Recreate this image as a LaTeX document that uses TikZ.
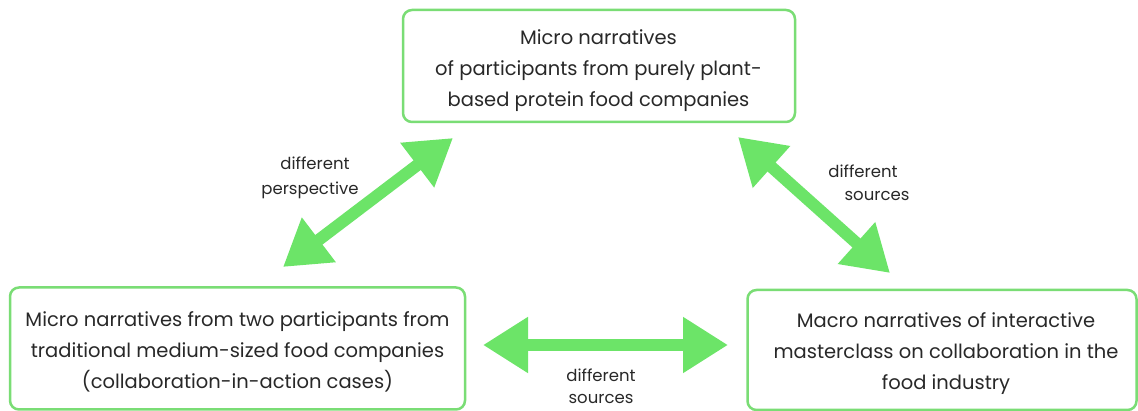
\documentclass[tikz,border=0pt]{standalone}
\usepackage{fontspec}
\setmainfont{Poppins}
\usetikzlibrary{arrows.meta}
\definecolor{boxgreen}{RGB}{122,221,117}
\definecolor{arrowgreen}{RGB}{108,228,104}
\definecolor{ink}{RGB}{40,40,40}
\begin{document}
\begin{tikzpicture}[x=1pt,y=-1pt,
  frame/.style={draw=boxgreen, line width=2.5pt, rounded corners=9pt,
    fill=white, inner sep=0pt},
  narrative/.style={align=center, text=ink, inner sep=0pt,
    font=\fontsize{19.5}{31}\selectfont},
  twoway/.style={draw=arrowgreen, line width=12pt,
    {Triangle[length=45pt,width=53pt]}-{Triangle[length=45pt,width=53pt]}},
  note/.style={text=ink, font=\fontsize{16.5}{27}\selectfont, inner sep=0pt}]
  \useasboundingbox (0,0) rectangle (1138,411);
  \fill[white] (0,0) rectangle (1138,411);

  % frames of the three narrative boxes
  \node[frame, minimum width=392pt, minimum height=112pt] (plant) at (599,66) {};
  \node[frame, minimum width=455pt, minimum height=122pt] (trad) at (237.5,348.5) {};
  \node[frame, minimum width=389pt, minimum height=120pt] (macro) at (942,350) {};

  % their texts
  \node[narrative] (plantText) at (598.5,70.5)
    {Micro narratives\\of participants from purely plant-\\based protein food companies};
  \node[narrative] (tradText) at (237.5,351.5)
    {Micro narratives from two participants from\\traditional medium-sized food companies\\(collaboration-in-action cases)};
  \node[narrative] (macroText) at (946,353.5)
    {Macro narratives of interactive\\masterclass on collaboration in the\\food industry};

  % arrow end points
  \coordinate (tradTop)   at (283,267);
  \coordinate (plantLeft) at (453,138);
  \coordinate (plantRight) at (738,137);
  \coordinate (macroTop)  at (890,273);
  \coordinate (tradRight) at (483,345);
  \coordinate (macroLeft) at (728,345);

  \draw[twoway] (tradTop) -- (plantLeft);
  \draw[twoway] (plantRight) -- (macroTop);
  \draw[twoway] (tradRight) -- (macroLeft);

  % labels of the relations
  \node[note] (persA) at (315,163) {different};
  \node[note] (persB) at (310,190) {perspective};
  \node[note] (srcA) at (863,171) {different};
  \node[note] (srcB) at (877,196) {sources};
  \node[note] (botA) at (601,375) {different};
  \node[note] (botB) at (601,399) {sources};
\end{tikzpicture}
\end{document}
